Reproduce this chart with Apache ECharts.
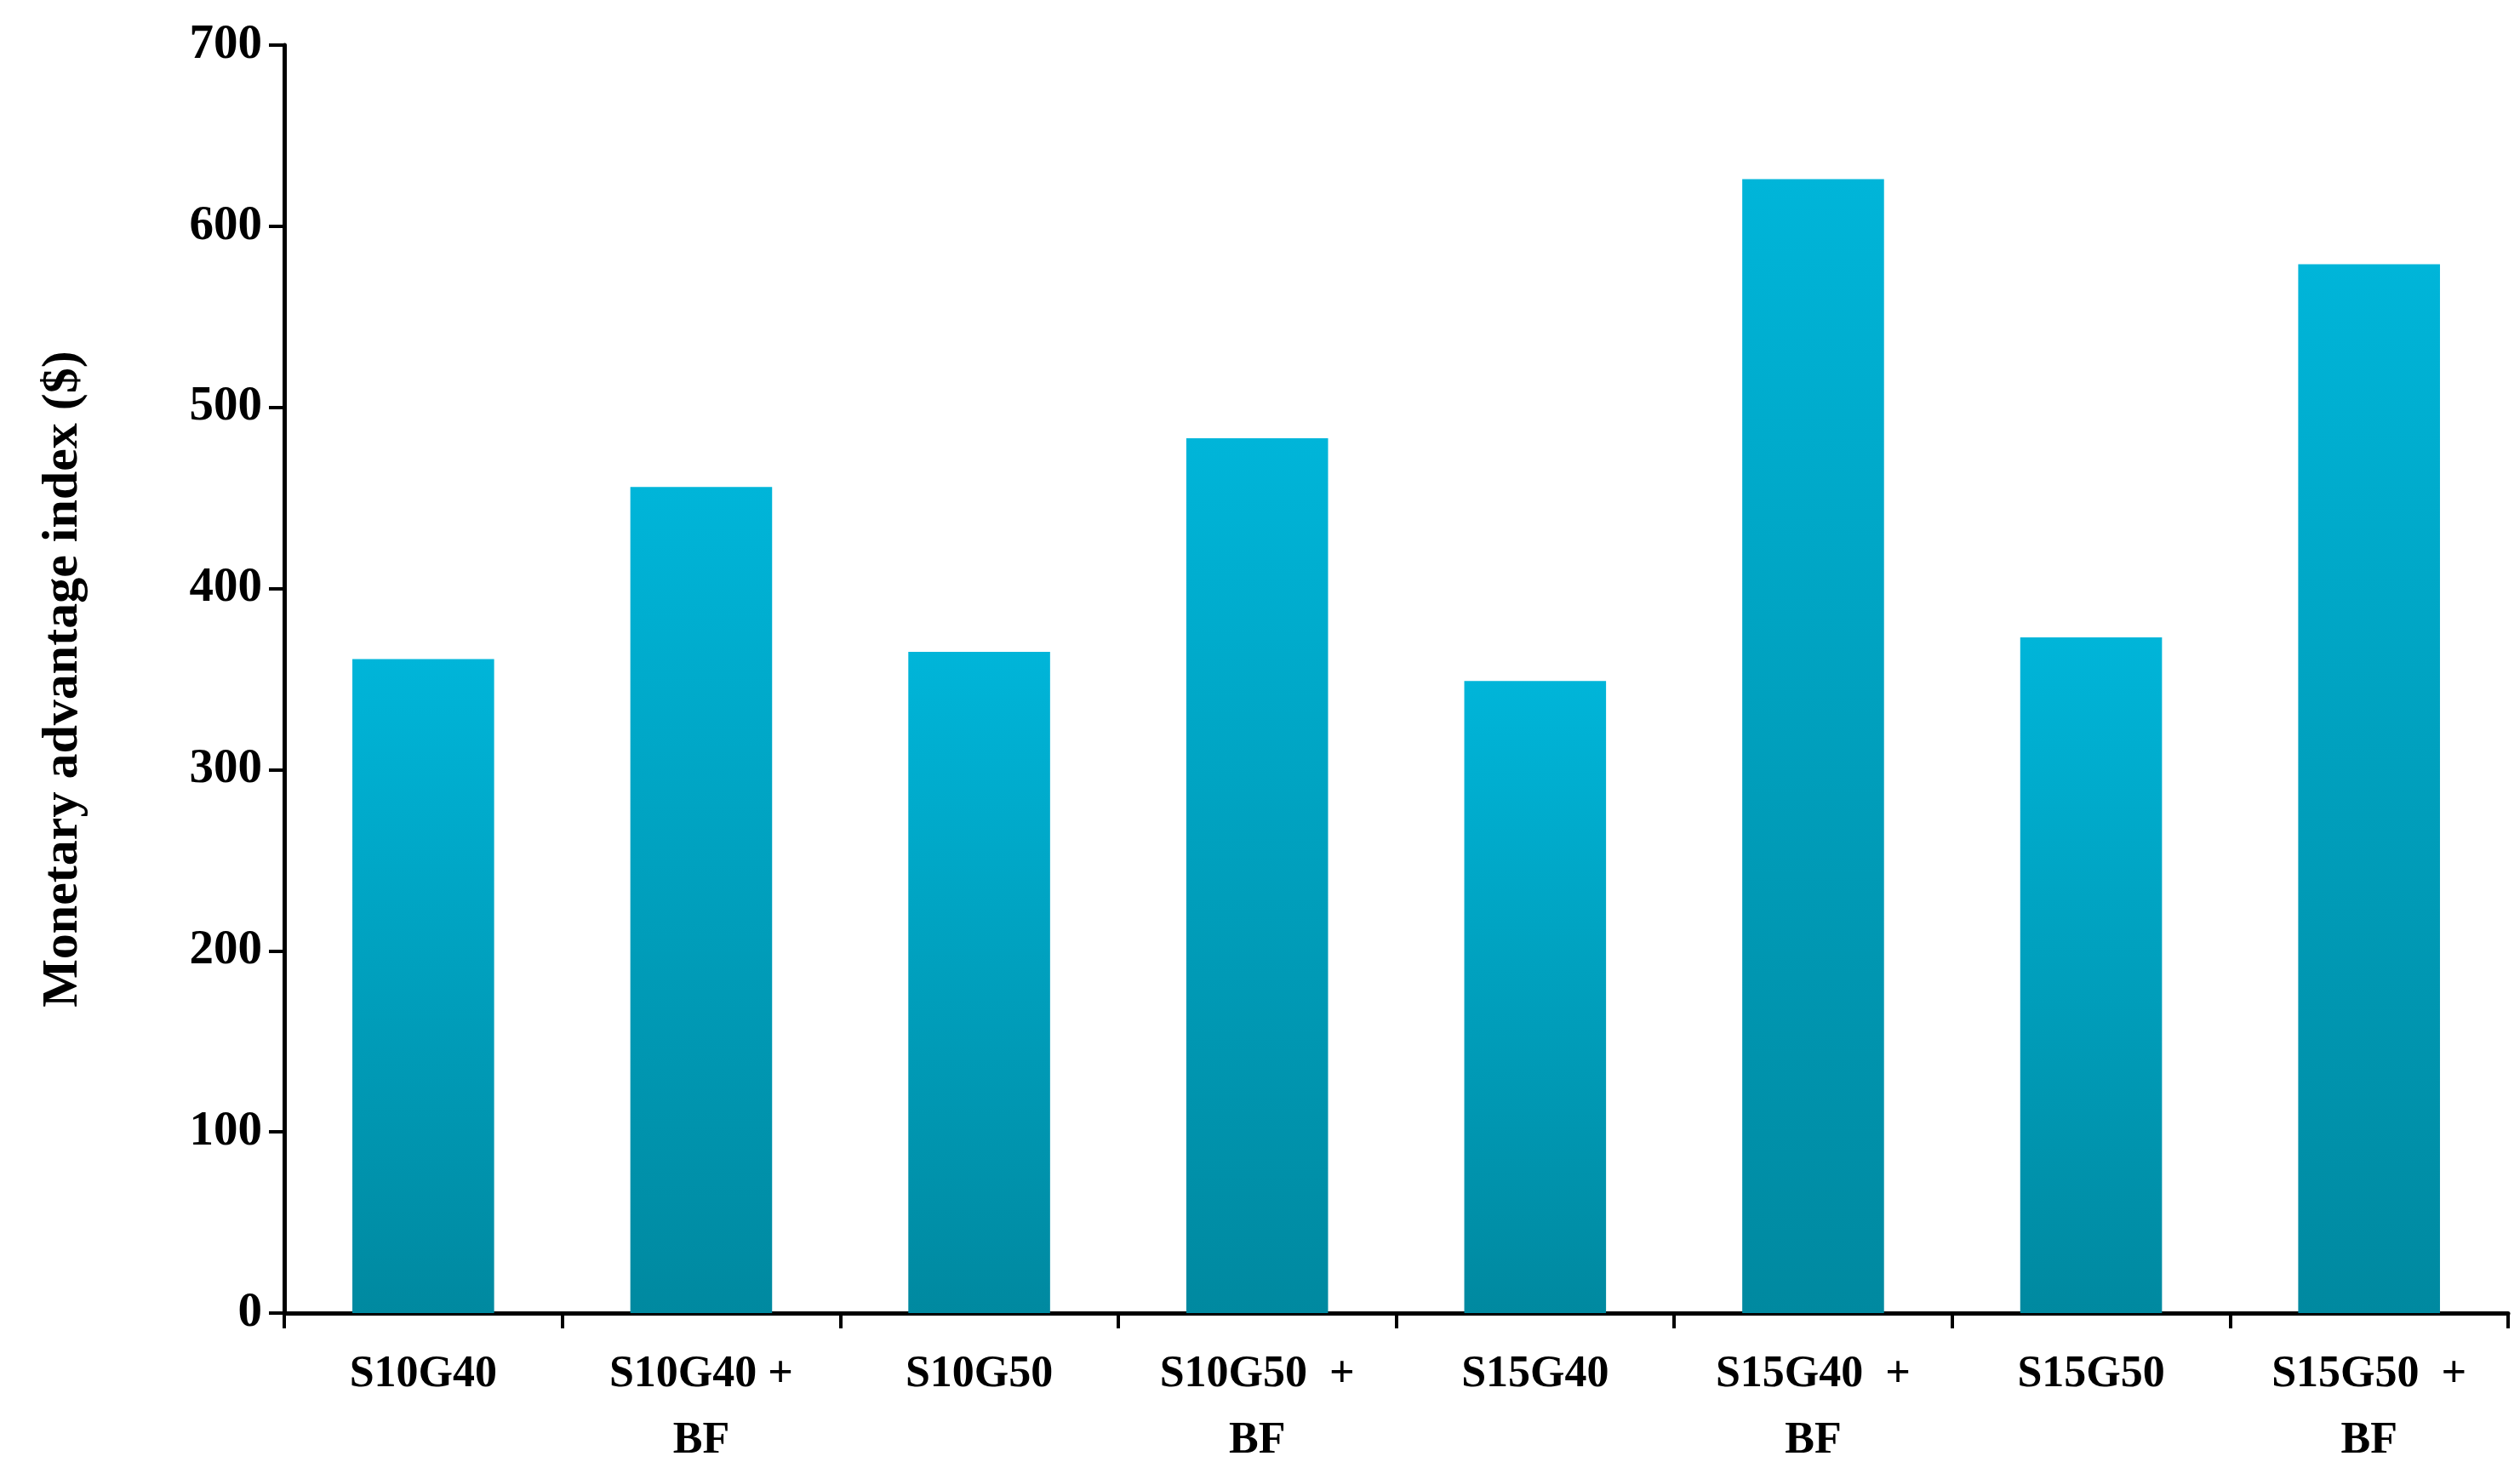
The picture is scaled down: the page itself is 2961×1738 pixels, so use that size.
<!DOCTYPE html>
<html>
<head>
<meta charset="utf-8">
<script src="https://cdn.jsdelivr.net/npm/echarts@6/dist/echarts.min.js"></script>
<style>html,body{margin:0;padding:0;background:#fff}#charts{width:2961px;height:1738px}</style>
</head>
<body>
<div id="charts"></div>
<script>
const categories = ["S10G40", "S10G40 +\nBF", "S10G50", "S10G50  +\nBF", "S15G40", "S15G40  +\nBF", "S15G50", "S15G50  +\nBF"];
const values = [361, 456, 365, 483, 349, 626, 373, 579];

const font = "Liberation Serif";
const chart = echarts.init(document.getElementById("charts"));
chart.setOption({
  animation: false,
  grid: { left: 334, right: 14, top: 53, bottom: 195 },
  xAxis: {
    type: "category",
    data: categories,
    axisLine: { lineStyle: { color: "#000", width: 5 } },
    axisTick: { show: true, length: 18, lineStyle: { color: "#000", width: 4 } },
    axisLabel: { fontFamily: font, fontWeight: "bold", fontSize: 52, color: "#000", margin: 34, lineHeight: 78 }
  },
  yAxis: {
    type: "value",
    min: 0,
    max: 700,
    interval: 100,
    name: "Monetary advantage index ($)",
    nameLocation: "middle",
    nameGap: 230,
    nameTextStyle: { fontFamily: font, fontWeight: "bold", fontSize: 60, color: "#000" },
    splitLine: { show: false },
    axisLine: { show: true, lineStyle: { color: "#000", width: 5 } },
    axisTick: { show: true, length: 18, lineStyle: { color: "#000", width: 4 } },
    axisLabel: { fontFamily: font, fontWeight: "bold", fontSize: 57, color: "#000", margin: 26 }
  },
  series: [{
    type: "bar",
    data: values,
    barCategoryGap: "49%",
    itemStyle: {
      color: new echarts.graphic.LinearGradient(0, 0, 0, 1, [
        { offset: 0, color: "#00b5d9" },
        { offset: 1, color: "#0089a0" }
      ])
    }
  }]
});
</script>
</body>
</html>
